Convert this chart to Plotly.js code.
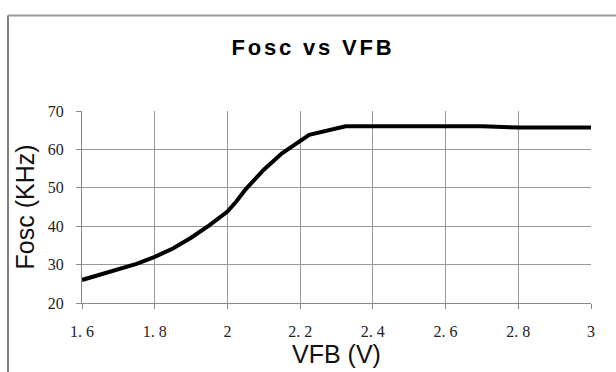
<!DOCTYPE html>
<html>
<head>
<meta charset="utf-8">
<script src="https://cdn.plot.ly/plotly-3.0.1.min.js"></script>
<style>
html, body { margin: 0; padding: 0; background: #fff; }
#chart { width: 616px; height: 372px; }
.gtitle { letter-spacing: 2.8px; }
</style>
</head>
<body>
<div id="chart"></div>
<script>
// Data
const vfb  = [1.6, 1.65, 1.7, 1.75, 1.8, 1.85, 1.9, 1.95, 2.0, 2.025, 2.05, 2.1, 2.15, 2.2, 2.225, 2.325, 2.7, 2.8, 3.0];
const fosc = [26.0, 27.4, 28.6, 30.2, 32.0, 34.2, 37.0, 40.2, 43.8, 46.5, 49.6, 54.7, 59.0, 62.4, 63.8, 66.0, 66.0, 65.7, 65.7];

const xTickVals = [1.6, 1.8, 2.0, 2.2, 2.4, 2.6, 2.8, 3.0];
const xTickText = ['1. 6', '1. 8', '2', '2. 2', '2. 4', '2. 6', '2. 8', '3'];
const yTickVals = [20, 30, 40, 50, 60, 70];

const chartTitle = 'Fosc vs VFB';
const xTitle = 'VFB (V)';
const yTitle = 'Fosc (KHz)';

const M = { l: 82, r: 25, t: 111, b: 69 };
const W = 616, H = 372;
const pw = W - M.l - M.r, ph = H - M.t - M.b;
const px2paperX = p => (p - M.l) / pw;
const px2paperY = p => (H - M.b - p) / ph;

const titleFont = { family: 'Liberation Sans', size: 25, color: '#111' };

const trace = {
  x: vfb, y: fosc, type: 'scatter', mode: 'lines',
  line: { color: '#000', width: 4, shape: 'linear' },
  hoverinfo: 'skip'
};

const layout = {
  width: W, height: H,
  margin: M,
  paper_bgcolor: '#fff', plot_bgcolor: '#fff',
  showlegend: false,
  title: {
    text: chartTitle,
    font: { family: 'Liberation Sans', size: 22, color: '#000', weight: 'bold' },
    x: 313 / W, xref: 'container', xanchor: 'center',
    y: 1 - 47 / H, yref: 'container', yanchor: 'middle'
  },
  xaxis: {
    range: [1.6, 3.0],
    tickmode: 'array', tickvals: xTickVals, ticktext: xTickText,
    tickfont: { family: 'Liberation Serif', size: 16, color: '#222' },
    ticks: 'outside', ticklen: 5, tickcolor: '#888', tickwidth: 1,
    ticklabelstandoff: 9,
    showgrid: true, gridcolor: '#999', gridwidth: 1,
    showline: true, linecolor: '#888', linewidth: 1,
    zeroline: false,
    title: { text: xTitle, font: titleFont, standoff: 6 }
  },
  yaxis: {
    range: [20, 70],
    tickmode: 'array', tickvals: yTickVals,
    tickfont: { family: 'Liberation Serif', size: 16, color: '#222' },
    ticks: 'outside', ticklen: 5, tickcolor: '#888', tickwidth: 1,
    ticklabelstandoff: 9,
    showgrid: true, gridcolor: '#999', gridwidth: 1,
    showline: true, linecolor: '#888', linewidth: 1,
    zeroline: false,
    title: { text: yTitle, font: titleFont, standoff: 6 }
  },
  shapes: [
    { type: 'line', xref: 'paper', yref: 'paper',
      x0: px2paperX(8), x1: px2paperX(8), y0: px2paperY(15.5), y1: px2paperY(400),
      line: { color: '#808080', width: 2 } },
    { type: 'line', xref: 'paper', yref: 'paper',
      x0: px2paperX(8), x1: px2paperX(640), y0: px2paperY(15.5), y1: px2paperY(15.5),
      line: { color: '#999', width: 2 } }
  ]
};

Plotly.newPlot('chart', [trace], layout, { staticPlot: true, displayModeBar: false });
</script>
</body>
</html>
